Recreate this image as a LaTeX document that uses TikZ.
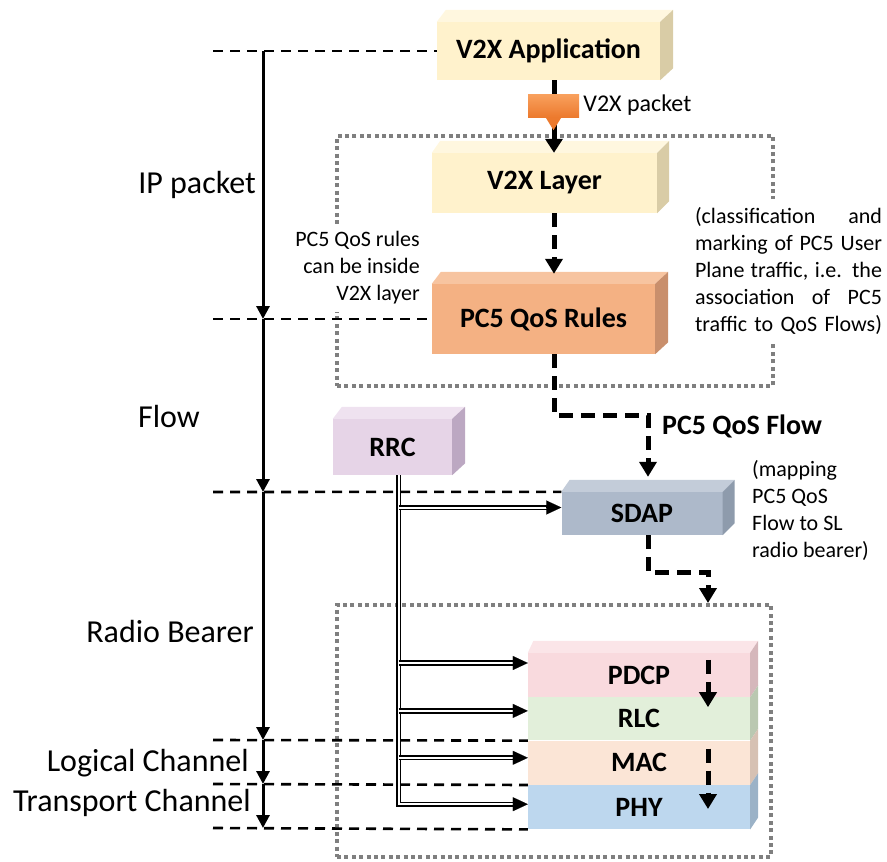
\documentclass[tikz,border=0pt]{standalone}
\usepackage{fontspec}
\setmainfont{Carlito}
\usetikzlibrary{positioning,calc,arrows.meta}

\definecolor{appfront}{HTML}{FFF2CC}
\definecolor{apptop}{HTML}{FFF7DF}
\definecolor{appside}{HTML}{D9CCA6}
\definecolor{rulefront}{HTML}{F4B183}
\definecolor{ruletop}{HTML}{F7C4A0}
\definecolor{ruleside}{HTML}{C98F6C}
\definecolor{rrcfront}{HTML}{E6D4E7}
\definecolor{rrctop}{HTML}{EFE2F0}
\definecolor{rrcside}{HTML}{BCA8C2}
\definecolor{sdapfront}{HTML}{ADB9CA}
\definecolor{sdaptop}{HTML}{C3CCD9}
\definecolor{sdapside}{HTML}{8E9BAC}
\definecolor{pdcpfront}{HTML}{F9DADE}
\definecolor{pdcptop}{HTML}{FBE5E8}
\definecolor{pdcpside}{HTML}{D5B7BB}
\definecolor{rlcfront}{HTML}{E2EFDA}
\definecolor{rlcside}{HTML}{BAC8B1}
\definecolor{macfront}{HTML}{FBE5D6}
\definecolor{macside}{HTML}{D6C1B3}
\definecolor{phyfront}{HTML}{BDD7EE}
\definecolor{physide}{HTML}{9BB2C7}
\definecolor{groupgray}{HTML}{7F7F7F}
\definecolor{pkttop}{HTML}{F9A15E}
\definecolor{pktbot}{HTML}{EC7A2E}

% top and right faces of a layer block
\newcommand{\boxtop}[3]{%
  \fill[#2] (#1.north west) -- ++(#3*0.7pt,12pt) -- ($(#1.north east)+(#3pt,12pt)$) -- (#1.north east) -- cycle;}
\newcommand{\boxside}[3]{%
  \fill[#2] (#1.north east) -- ($(#1.north east)+(#3pt,12pt)$) -- ($(#1.south east)+(#3pt,12pt)$) -- (#1.south east) -- cycle;}

\tikzset{
  layerbox/.style={inner sep=0pt, font=\fontsize{28}{33}\selectfont\bfseries},
  groupbox/.style={draw=groupgray, line width=4pt, dash pattern=on 4pt off 3.4pt, inner sep=0pt},
  levelline/.style={line width=2.6pt, dash pattern=on 10pt off 7pt},
  levelarrow/.style={line width=3pt, -{Triangle[length=13pt,width=13pt]}},
  pktarrow/.style={line width=5pt, -{Triangle[length=14pt,width=17pt]}},
  flowarrow/.style={line width=5pt, dash pattern=on 14pt off 8pt, -{Triangle[length=15pt,width=17pt]}},
  rrcwire/.style={draw=black, double=white, double distance=2pt, line width=1.6pt, shorten >=12pt},
  rrctip/.style={line width=0.1pt, -{Triangle[length=15pt,width=14pt]}},
  axislabel/.style={anchor=base east, inner sep=0pt, font=\fontsize{32}{37}\selectfont},
  note/.style={fill=white, inner xsep=5pt, inner ysep=8pt, font=\fontsize{22}{27}\selectfont},
}

\begin{document}
\begin{tikzpicture}[x=1pt, y=-1pt]
\useasboundingbox (0,0) rectangle (887,862);

% dotted groups
\node[groupbox, minimum width=436pt, minimum height=250pt] (upgrp) at (555,261) {};
\node[groupbox, minimum width=434pt, minimum height=252pt] (l2grp) at (554,731) {};

% notes
\node[note, align=right, anchor=east] (rulesnote) at (425,268) {PC5 QoS rules\\can be inside\\V2X layer};
\node[note, align=left] (classnote) at (788.5,271) {%
  \makebox[187pt][s]{(classification and}\\
  \makebox[187pt][s]{marking of PC5 User}\\
  \makebox[187pt][s]{Plane traffic, i.e. the}\\
  \makebox[187pt][s]{association of PC5}\\
  \makebox[187pt][s]{traffic to QoS Flows)}};
\node[note, align=left, anchor=west] (mapnote) at (747,510) {(mapping\\PC5 QoS\\Flow to SL\\radio bearer)};

% layers
\node[layerbox, fill=appfront, minimum width=223pt, minimum height=58pt] (app) at (548.5,51) {V2X Application};
\node[layerbox, fill=appfront, minimum width=225pt, minimum height=60pt] (v2x) at (544.5,183) {V2X Layer};
\node[layerbox, fill=rulefront, minimum width=223pt, minimum height=70pt] (rules) at (543.5,319) {PC5 QoS Rules};
\node[layerbox, fill=rrcfront, minimum width=119pt, minimum height=56pt] (rrc) at (392.5,447) {RRC};
\node[layerbox, fill=sdapfront, minimum width=161pt, minimum height=43pt] (sdap) at (642,513.5) {SDAP};
\node[layerbox, fill=pdcpfront, minimum width=222pt, minimum height=44pt] (pdcp) at (639,675) {PDCP};
\node[layerbox, fill=rlcfront, minimum width=222pt, minimum height=43pt, below=0pt of pdcp] (rlc) {RLC};
\node[layerbox, fill=macfront, minimum width=222pt, minimum height=44pt, below=0pt of rlc] (mac) {MAC};
\node[layerbox, fill=phyfront, minimum width=222pt, minimum height=44pt, below=0pt of mac] (phy) {PHY};

\boxtop{app}{apptop}{13} \boxside{app}{appside}{13}
\boxtop{v2x}{apptop}{12} \boxside{v2x}{appside}{12}
\boxtop{rules}{ruletop}{13} \boxside{rules}{ruleside}{13}
\boxtop{rrc}{rrctop}{13} \boxside{rrc}{rrcside}{13}
\boxtop{sdap}{sdaptop}{12} \boxside{sdap}{sdapside}{12}
\boxtop{pdcp}{pdcptop}{8} \boxside{pdcp}{pdcpside}{8}
\boxside{rlc}{rlcside}{8}
\boxside{mac}{macside}{8}
\boxside{phy}{physide}{8}

% levels on the left
\foreach \n/\yy in {0/51, 1/319, 2/492, 3/740, 4/784, 5/828} {
  \coordinate (lv\n) at (213,\yy);
  \coordinate (ax\n) at (263,\yy);
}
\draw[levelline] (lv0) -- (app.west);
\draw[levelline] (lv1) -- (rules.west);
\draw[levelline] (lv2) -- (sdap.north west);
\draw[levelline] (lv3) -- (rlc.south west);
\draw[levelline] (lv4) -- (mac.south west);
\draw[levelline] (lv5) -- (phy.south west);
\foreach \a/\b in {0/1, 1/2, 2/3, 3/4, 4/5}
  \draw[levelarrow] (ax\a) -- (ax\b);

\node[axislabel] (iplbl) at (256,193) {IP packet};
\node[axislabel] (flowlbl) at (200,427) {Flow};
\node[axislabel] (rblbl) at (254,642) {Radio Bearer};
\node[axislabel] (lclbl) at (249,771) {Logical Channel};
\node[axislabel] (tclbl) at (251,811) {Transport Channel};

% user plane flow
\coordinate (pktaxis) at (554,0);
\coordinate (stackaxis) at (708,0);
\draw[pktarrow] (app.south -| pktaxis) -- (v2x.north -| pktaxis);
\node[inner sep=0pt, minimum width=51pt, minimum height=23pt, top color=pkttop, bottom color=pktbot] (pkt) at (553.5,105.5) {};
\fill[pktbot] ($(pkt.south)+(-8pt,0)$) -- ($(pkt.south)+(8pt,0)$) -- ($(pkt.south)+(0,-13pt)$) -- cycle;
\node[anchor=west, inner sep=0pt, font=\fontsize{24}{28}\selectfont] (pktlbl) at ($(pkt.east)+(4pt,0)$) {V2X packet};

\draw[flowarrow] (v2x.south -| pktaxis) -- ($(rules.north -| pktaxis)+(0,10pt)$);
\draw[flowarrow] (rules.south -| pktaxis) -- ++(0,61) -| ($(sdap.north)+(6pt,15pt)$);
\node[anchor=base west, inner sep=0pt, font=\fontsize{28}{33}\selectfont\bfseries] (qosflow) at (662,434) {PC5 QoS Flow};
\draw[flowarrow] ($(sdap.south)+(6pt,0)$) -- ++(0,37) -| (l2grp.north -| stackaxis);
\draw[flowarrow] ($(pdcp.north -| stackaxis)+(0,-7pt)$) -- ($(rlc.north -| stackaxis)+(0,-10pt)$);
\draw[flowarrow] ($(mac.north -| stackaxis)+(0,-8pt)$) -- ($(phy.north -| stackaxis)+(0,-24pt)$);

% RRC control
\coordinate (bus) at ($(rrc.south)+(6pt,0)$);
\coordinate (in-phy) at ($(phy.west)+(0,3pt)$);
\draw[rrcwire] (bus) |- (in-phy);
\draw[rrctip] ($(in-phy)+(-15pt,0)$) -- (in-phy);
\foreach \tgt/\dy in {sdap/6, pdcp/12, rlc/8, mac/5} {
  \coordinate (in-\tgt) at ($(\tgt.west)+(0,\dy pt)$);
  \draw[rrcwire] (bus |- in-\tgt) -- (in-\tgt);
  \draw[rrctip] ($(in-\tgt)+(-15pt,0)$) -- (in-\tgt);
}
\end{tikzpicture}
\end{document}
